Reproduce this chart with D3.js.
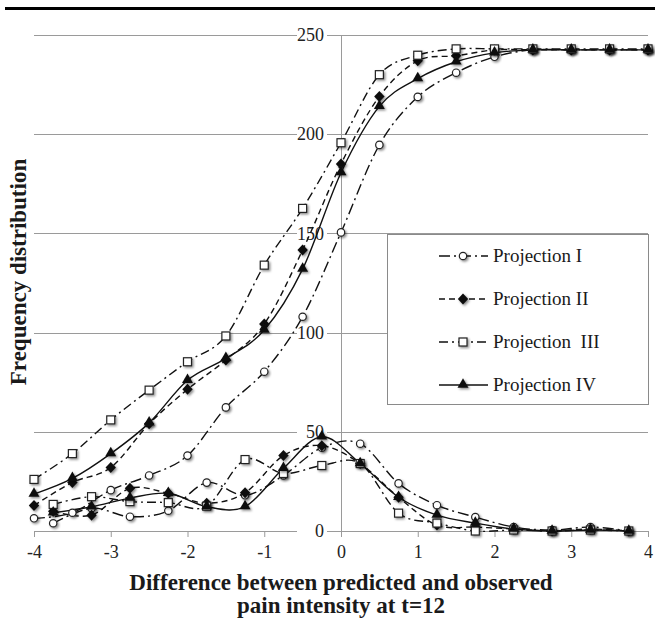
<!DOCTYPE html>
<html>
<head>
  <meta charset="utf-8">
  <style type="text/css">
    body { margin: 0; background: #fff; }
    .tick text { font-family: "Liberation Serif", serif; font-size: 18px; fill: #222; }
    .grid line { stroke: #9a9a9a; stroke-width: 1; shape-rendering: crispEdges; }
    .grid path { display: none; }
    .title { font-family: "Liberation Serif", serif; font-weight: bold; font-size: 23px; fill: #1a1a1a; }
    .legend text { font-family: "Liberation Serif", serif; font-size: 19px; fill: #1a1a1a; white-space: pre; }
  </style>
</head>
<body>

  <div class="svg_container"></div>

  <script src="https://cdnjs.cloudflare.com/ajax/libs/d3/7.8.5/d3.min.js"></script>
  <script type="text/javascript">
    // x positions: cumulative curves on the half steps, frequencies on the bin middles
    var cumX  = [-4, -3.5, -3, -2.5, -2, -1.5, -1, -0.5, 0, 0.5, 1, 1.5, 2, 2.5, 3, 3.5, 4];
    var freqX = [-3.75, -3.25, -2.75, -2.25, -1.75, -1.25, -0.75, -0.25, 0.25, 0.75, 1.25, 1.75, 2.25, 2.75, 3.25, 3.75];

    var cumI   = [6.4, 9.2, 20.6, 28, 38, 62.3, 80.3, 108, 150.5, 194.6, 218.8, 231, 239, 242.5, 242.5, 242.5, 242.5];
    var cumII  = [12.8, 24.5, 32, 54, 71.4, 86.2, 104.3, 141.6, 185, 219, 237, 239.5, 242.5, 242.5, 242.5, 242.5, 242.5];
    var cumIII = [26, 39, 56, 71, 85.3, 98.3, 134, 162.6, 195.7, 230, 239.8, 243, 243, 243, 243, 243, 243];
    var cumIV  = [18.6, 26.5, 39, 54.5, 76, 87, 101.3, 132, 180.6, 214, 228, 236.5, 241, 242.5, 242.5, 242.5, 242.5];

    var freqI   = [3.9, 11.5, 7.2, 10.2, 24.4, 18, 28, 42, 44, 24, 13, 7, 2, 0.5, 2, 0];
    var freqII  = [10, 8, 21.5, 19, 14, 19.3, 38, 43, 34, 17, 3, 2, 1, 0, 1, 0];
    var freqIII = [13.4, 17.3, 14.8, 14.3, 12.5, 36, 29, 33, 34, 9, 4, 0, 0.5, 0, 0.5, 0];
    var freqIV  = [9.2, 12.2, 16.6, 19, 12.3, 12.3, 31.6, 47.5, 34, 17, 8, 4, 1, 0, 0.5, 0];

    var xTicks = [-4, -3, -2, -1, 0, 1, 2, 3, 4];
    var yTicks = [0, 50, 100, 150, 200, 250];
    var seriesNames = ["Projection I", "Projection II", "Projection  III", "Projection IV"];

    var W = 655, H = 622;
    var plotLeft = 34, plotRight = 648, plotTop = 35, plotBottom = 531;

    var x = d3.scaleLinear().domain([-4, 4]).range([plotLeft, plotRight]);
    var y = d3.scaleLinear().domain([0, 250]).range([plotBottom, plotTop]);

    var svg = d3.select(".svg_container").append("svg")
      .attr("width", W)
      .attr("height", H);

    var defs = svg.append("defs");
    defs.append("filter")
      .attr("id", "shadow")
      .attr("x", "-50%").attr("y", "-50%").attr("width", "200%").attr("height", "200%")
      .append("feDropShadow")
      .attr("dx", 1.5).attr("dy", 1.5)
      .attr("stdDeviation", 1.2)
      .attr("flood-color", "#000")
      .attr("flood-opacity", 0.45);

    // thick rule at the top
    svg.append("rect")
      .attr("x", 5).attr("y", 7)
      .attr("width", W - 5).attr("height", 3)
      .attr("fill", "#000");

    // horizontal gridlines
    svg.append("g")
      .attr("class", "grid")
      .attr("transform", "translate(" + plotLeft + ",0)")
      .call(d3.axisLeft(y).tickValues(yTicks).tickSize(-(plotRight - plotLeft)).tickFormat(""));

    // vertical axis line at x = 0
    svg.append("line")
      .attr("x1", x(0)).attr("x2", x(0))
      .attr("y1", plotTop).attr("y2", plotBottom)
      .attr("stroke", "#9a9a9a")
      .attr("shape-rendering", "crispEdges");

    // x axis
    var xAxis = svg.append("g")
      .attr("transform", "translate(0," + plotBottom + ")")
      .call(d3.axisBottom(x).tickValues(xTicks).tickSize(6).tickSizeOuter(0).tickPadding(8)
        .tickFormat(function(d) { return String(d); }));
    xAxis.select(".domain").attr("stroke", "#9a9a9a");
    xAxis.selectAll(".tick line").attr("stroke", "#9a9a9a");

    // y labels sit on white patches next to the zero axis
    var yLab = svg.append("g")
      .attr("transform", "translate(" + x(0) + ",0)")
      .call(d3.axisLeft(y).tickValues(yTicks).tickSize(0).tickPadding(17));
    yLab.select(".domain").remove();
    yLab.selectAll(".tick").insert("rect", "text")
      .attr("x", -44).attr("y", -10)
      .attr("width", 30).attr("height", 20)
      .attr("fill", "#fff");

    var line = d3.line()
      .x(function(d) { return x(d[0]); })
      .y(function(d) { return y(d[1]); })
      .curve(d3.curveCatmullRom.alpha(0));

    var styles = [
      { dash: "11,4,2,4", marker: "circle" },
      { dash: "6,4", marker: "diamond" },
      { dash: "9,4,2,4", marker: "square" },
      { dash: null, marker: "triangle" }
    ];

    var cumSets = [cumI, cumII, cumIII, cumIV];
    var freqSets = [freqI, freqII, freqIII, freqIV];

    function drawMarker(g, kind, cx, cy) {
      if (kind === "circle") {
        g.append("circle").attr("cx", cx).attr("cy", cy).attr("r", 3.7)
          .attr("fill", "#fff").attr("stroke", "#222").attr("stroke-width", 1.2)
          .attr("filter", "url(#shadow)");
      } else if (kind === "square") {
        g.append("rect").attr("x", cx - 4).attr("y", cy - 4)
          .attr("width", 8).attr("height", 8)
          .attr("fill", "#fff").attr("stroke", "#222").attr("stroke-width", 1.2)
          .attr("filter", "url(#shadow)");
      } else if (kind === "diamond") {
        g.append("path").attr("d", "M0,-5.5L5.2,0L0,5.5L-5.2,0Z")
          .attr("transform", "translate(" + cx + "," + cy + ")")
          .attr("fill", "#111")
          .attr("filter", "url(#shadow)");
      } else {
        g.append("path").attr("d", d3.symbol().type(d3.symbolTriangle).size(52)())
          .attr("transform", "translate(" + cx + "," + (cy - 0.5) + ")")
          .attr("fill", "#111")
          .attr("filter", "url(#shadow)");
      }
    }

    var plot = svg.append("g");

    styles.forEach(function(s, i) {
      var cum = cumX.map(function(v, j) { return [v, cumSets[i][j]]; });
      var freq = freqX.map(function(v, j) { return [v, freqSets[i][j]]; });

      [cum, freq].forEach(function(pts) {
        plot.append("path")
          .datum(pts)
          .attr("d", line)
          .attr("fill", "none")
          .attr("stroke", "#111")
          .attr("stroke-width", 1.4)
          .attr("stroke-dasharray", s.dash);
      });
    });

    styles.forEach(function(s, i) {
      var mg = plot.append("g");
      cumX.forEach(function(v, j) { drawMarker(mg, s.marker, x(v), y(cumSets[i][j])); });
      freqX.forEach(function(v, j) { drawMarker(mg, s.marker, x(v), y(freqSets[i][j])); });
    });

    // legend
    var legend = svg.append("g").attr("class", "legend");
    legend.append("rect")
      .attr("x", 387.5).attr("y", 234.5)
      .attr("width", 261).attr("height", 170)
      .attr("fill", "#fff")
      .attr("stroke", "#8a8a8a")
      .attr("stroke-width", 1);

    var rowY = [256, 299, 342, 385];
    styles.forEach(function(s, i) {
      var ly = rowY[i];
      legend.append("line")
        .attr("x1", 439).attr("x2", 488)
        .attr("y1", ly).attr("y2", ly)
        .attr("stroke", "#111")
        .attr("stroke-width", 1.4)
        .attr("stroke-dasharray", s.dash);
      drawMarker(legend, s.marker, 463, ly);
      legend.append("text")
        .attr("x", 493).attr("y", ly)
        .attr("dy", "0.34em")
        .text(seriesNames[i]);
    });

    // axis titles
    svg.append("text")
      .attr("class", "title")
      .attr("x", x(0)).attr("y", 590)
      .attr("text-anchor", "middle")
      .text("Difference between predicted and observed");
    svg.append("text")
      .attr("class", "title")
      .attr("x", x(0)).attr("y", 613)
      .attr("text-anchor", "middle")
      .text("pain intensity at t=12");
    svg.append("text")
      .attr("class", "title")
      .attr("transform", "translate(26," + 272 + ") rotate(-90)")
      .attr("text-anchor", "middle")
      .text("Frequency distribution");
  </script>

</body>
</html>
